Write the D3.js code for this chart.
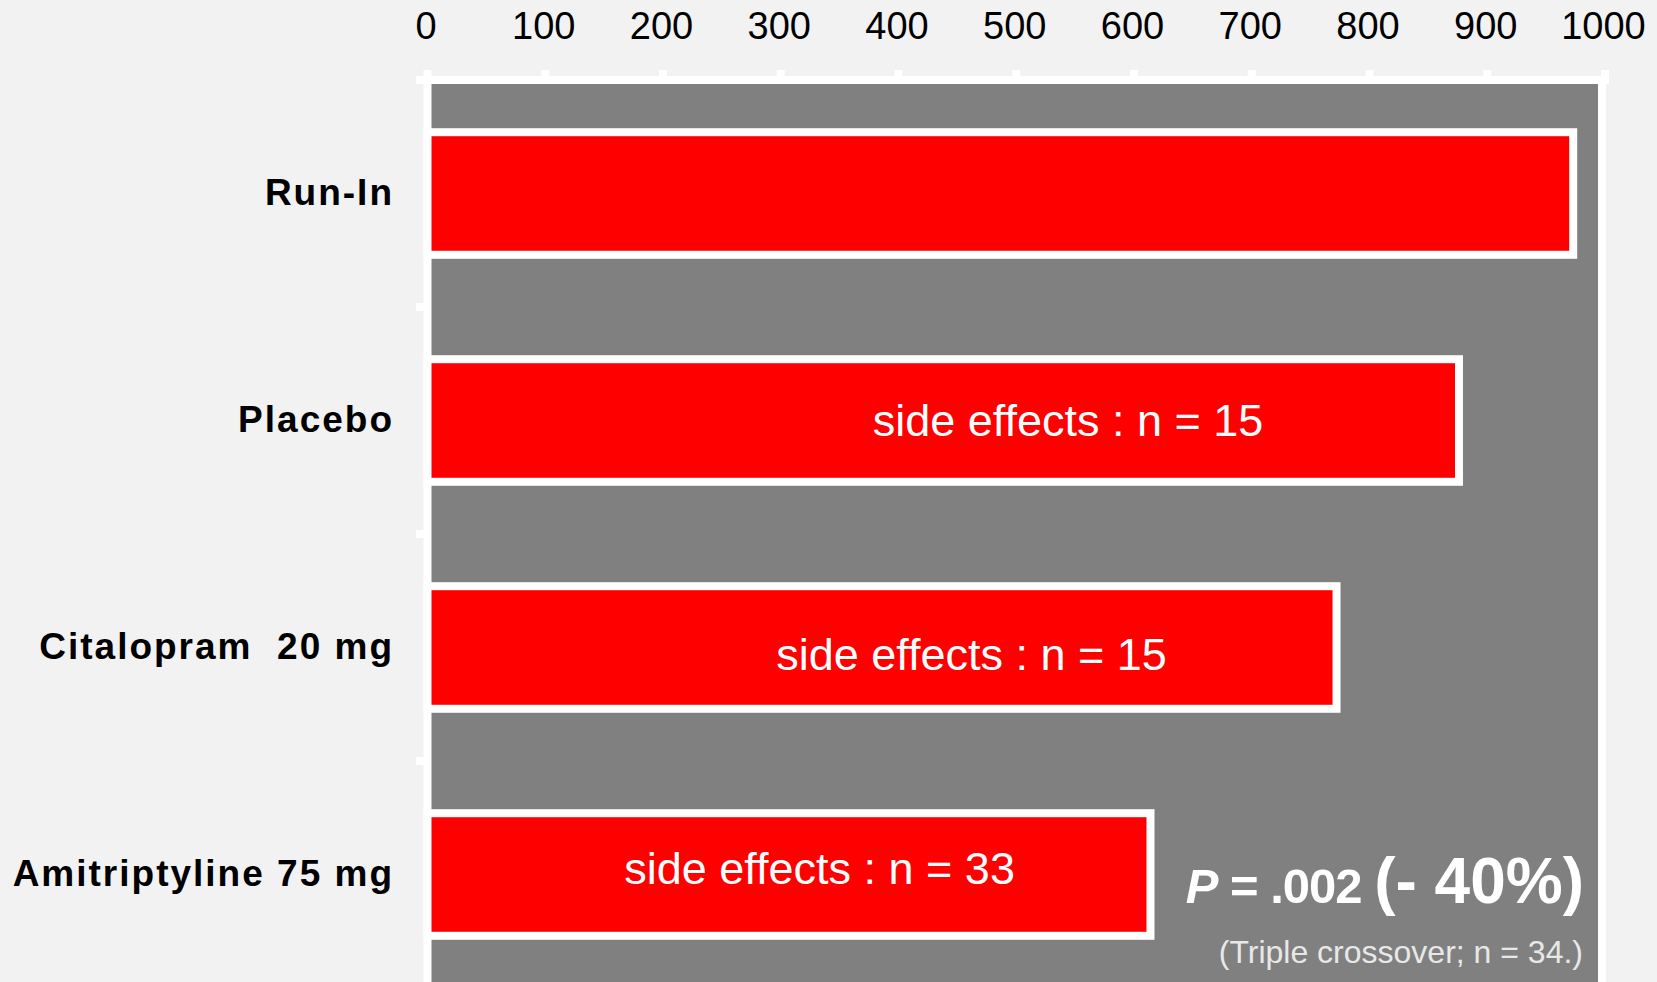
<!DOCTYPE html>
<html>
<head>
<meta charset="utf-8">
<script src="https://cdn.jsdelivr.net/npm/d3@7"></script>
<style>
  html, body { margin: 0; padding: 0; background: #f2f2f2; overflow: hidden; }
  svg { display: block; font-family: "Liberation Sans", Arial, sans-serif; }
</style>
</head>
<body>
<svg id="chart" width="1657" height="982"></svg>
<script>
// Treatment arms and their bar values
const categories = ["Run-In", "Placebo", "Citalopram\u00a0\u00a020 mg", "Amitriptyline 75 mg"];
const values = [973, 876, 772, 614];
const sideEffectLabels = [null, "side effects : n = 15", "side effects : n = 15", "side effects : n = 33"];
const xTicks = [0, 100, 200, 300, 400, 500, 600, 700, 800, 900, 1000];

// Where each in-bar label is centred (axis units) and its vertical nudge (px)
const labelCenters = [null, 544, 462, 333];
const labelNudge = [0, 15, 22, 9];

const W = 1657, H = 982;
const svg = d3.select("#chart");

const x = d3.scaleLinear().domain([0, 1000]).range([427.5, 1605]);
const y = d3.scaleBand().domain(categories).range([80, 988])
  .paddingInner(0.46).paddingOuter(0.23);

const step = y.step();
const plotTop = 80, plotBottom = 80 + step * categories.length;

// Grey plot area with white frame
svg.append("rect")
  .attr("x", x(0)).attr("y", plotTop)
  .attr("width", x(1000) - 3 - x(0))
  .attr("height", plotBottom - plotTop + 20)
  .attr("fill", "#808080")
  .attr("stroke", "#ffffff").attr("stroke-width", 8);

// Top axis line and tick marks
svg.append("line")
  .attr("x1", 416).attr("x2", x(1000) + 4)
  .attr("y1", plotTop).attr("y2", plotTop)
  .attr("stroke", "#ffffff").attr("stroke-width", 8);

svg.append("g").selectAll("line").data(xTicks).join("line")
  .attr("x1", d => x(d)).attr("x2", d => x(d))
  .attr("y1", 70).attr("y2", plotTop)
  .attr("stroke", "#ffffff").attr("stroke-width", 8);

svg.append("g").selectAll("text").data(xTicks).join("text")
  .attr("x", d => x(d) - 1.5).attr("y", 39)
  .attr("text-anchor", "middle")
  .attr("font-size", 38).attr("fill", "#000")
  .text(d => d);

// Left axis tick marks between categories
const boundaries = d3.range(1, categories.length).map(i => plotTop + i * step);
svg.append("g").selectAll("line").data(boundaries).join("line")
  .attr("x1", 416).attr("x2", x(0))
  .attr("y1", d => d).attr("y2", d => d)
  .attr("stroke", "#ffffff").attr("stroke-width", 8);

// Category labels
svg.append("g").selectAll("text").data(categories).join("text")
  .attr("x", 394)
  .attr("y", d => y(d) + y.bandwidth() / 2 + 11)
  .attr("text-anchor", "end")
  .attr("font-size", 37).attr("font-weight", "bold")
  .attr("letter-spacing", 2)
  .attr("fill", "#000")
  .text(d => d);

// Bars
svg.append("g").selectAll("rect").data(values).join("rect")
  .attr("x", x(0))
  .attr("y", (d, i) => y(categories[i]))
  .attr("width", d => x(d) - x(0))
  .attr("height", y.bandwidth())
  .attr("fill", "#ff0000")
  .attr("stroke", "#ffffff").attr("stroke-width", 8);

// Side-effect labels inside bars
svg.append("g").selectAll("text")
  .data(sideEffectLabels.map((t, i) => ({ t, i })).filter(d => d.t))
  .join("text")
  .attr("x", d => x(labelCenters[d.i]))
  .attr("y", d => y(categories[d.i]) + y.bandwidth() / 2 + labelNudge[d.i])
  .attr("text-anchor", "middle")
  .attr("font-size", 45).attr("fill", "#ffffff")
  .text(d => d.t);

// Significance annotation
const pText = svg.append("text")
  .attr("x", 1584).attr("y", 903)
  .attr("text-anchor", "end")
  .attr("fill", "#ffffff").attr("font-weight", "bold");
pText.append("tspan").attr("font-size", 49).attr("font-style", "italic")
  .attr("letter-spacing", -1).text("P");
pText.append("tspan").attr("font-size", 49).attr("letter-spacing", -1)
  .text(" = .002 ");
pText.append("tspan").attr("font-size", 64)
  .text("(- 40%)");

svg.append("text")
  .attr("x", 1583).attr("y", 963)
  .attr("text-anchor", "end")
  .attr("font-size", 32)
  .attr("fill", "#e8e8e8")
  .text("(Triple crossover; n = 34.)");
</script>
</body>
</html>
